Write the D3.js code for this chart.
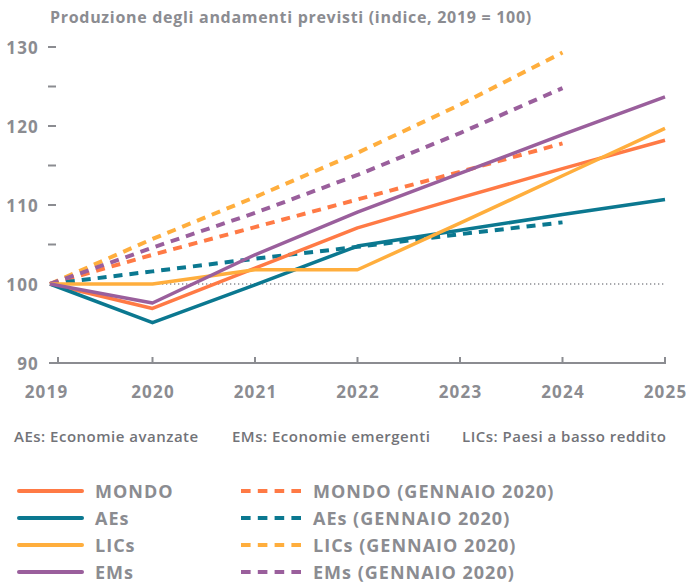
<!DOCTYPE html>
<html>
<head>
<meta charset="utf-8">
<script src="https://cdn.jsdelivr.net/npm/d3@7"></script>
<style>
  body { margin: 0; background: #ffffff; }
  text { font-family: "Open Sans", sans-serif; }
  .title { font-size: 16px; font-weight: 700; fill: #8b8c91; letter-spacing: 0.7px; }
  .axis text { font-size: 17px; font-weight: 700; fill: #8b8c91; font-family: "Open Sans", sans-serif; letter-spacing: 1.2px; }
  .note { font-size: 15px; font-weight: 600; fill: #727378; letter-spacing: 0.5px; }
  .legendText { font-size: 18px; font-weight: 700; fill: #8b8c91; letter-spacing: 1px; }
</style>
</head>
<body>
<div id="chart"></div>
<script>
// chart data
const years = [2019, 2020, 2021, 2022, 2023, 2024, 2025];
const yearsJan = [2019, 2020, 2021, 2022, 2023, 2024];

const mondo = [100, 96.9, 102.0, 107.1, 110.9, 114.6, 118.2];
const aes = [100, 95.1, 99.9, 104.8, 106.8, 108.8, 110.7];
const lics = [100, 100, 101.8, 101.8, 107.7, 113.7, 119.7];
const ems = [100, 97.6, 103.7, 109.1, 114.0, 118.9, 123.7];

const mondoJan = [100, 103.7, 107.2, 110.7, 114.2, 117.8];
const aesJan = [100, 101.6, 103.2, 104.7, 106.3, 107.8];
const licsJan = [100, 105.7, 111.0, 116.6, 122.7, 129.3];
const emsJan = [100, 104.6, 109.0, 113.8, 119.1, 124.8];

const yTickLabels = [90, 100, 110, 120, 130];
const yMinorTicks = [105, 115, 125];

const notes = ['AEs: Economie avanzate', 'EMs: Economie emergenti', 'LICs: Paesi a basso reddito'];

const colours = {mondo: '#ff7a45', aes: '#0b7890', lics: '#ffae3d', ems: '#9a5f9c'};

const series = [
  {name: 'MONDO', values: mondo, colour: colours.mondo, dashed: false},
  {name: 'AEs', values: aes, colour: colours.aes, dashed: false},
  {name: 'LICs', values: lics, colour: colours.lics, dashed: false},
  {name: 'EMs', values: ems, colour: colours.ems, dashed: false},
  {name: 'MONDO (GENNAIO 2020)', values: mondoJan, colour: colours.mondo, dashed: true},
  {name: 'AEs (GENNAIO 2020)', values: aesJan, colour: colours.aes, dashed: true},
  {name: 'LICs (GENNAIO 2020)', values: licsJan, colour: colours.lics, dashed: true},
  {name: 'EMs (GENNAIO 2020)', values: emsJan, colour: colours.ems, dashed: true}
];

const width = 686, height = 583;

let svg = d3.select('#chart')
            .append('svg')
            .attr('width', width)
            .attr('height', height);

let x = d3.scaleLinear()
          .domain([2019, 2025])
          .range([50, 665]);

let y = d3.scaleLinear()
          .domain([90, 130])
          .range([363, 47]);

svg.append('text')
   .attr('class', 'title')
   .attr('x', 50)
   .attr('y', 23)
   .text('Produzione degli andamenti previsti (indice, 2019 = 100)');

// y axis: labels and small dashes
svg.append('g')
   .attr('class', 'axis yAxis')
   .selectAll('text')
   .data(yTickLabels)
   .enter()
   .append('text')
   .attr('x', 39)
   .attr('y', d => y(d) + 7)
   .style('text-anchor', 'end')
   .text(d => d);

svg.append('g')
   .selectAll('line')
   .data(yTickLabels.filter(d => d > 100).concat(yMinorTicks))
   .enter()
   .append('line')
   .attr('x1', 48)
   .attr('x2', 56)
   .attr('y1', d => y(d))
   .attr('y2', d => y(d))
   .style('stroke', '#8b8c91')
   .style('stroke-width', 2);

// x axis
let xAxis = d3.axisBottom(x)
              .tickValues(years)
              .tickSize(0)
              .tickPadding(23)
              .tickFormat(d3.format('d'));

let gx = svg.append('g')
            .attr('class', 'axis xAxis')
            .attr('transform', `translate(0, ${y(90)})`)
            .call(xAxis);

gx.select('.domain').remove();
gx.selectAll('text').attr('dx', d => d == 2019 ? -4 : 0);

svg.append('line')
   .attr('x1', x(2019) - 1)
   .attr('x2', x(2025) + 1)
   .attr('y1', y(90))
   .attr('y2', y(90))
   .style('stroke', '#8b8c91')
   .style('stroke-width', 2);

svg.append('g')
   .selectAll('line')
   .data(years)
   .enter()
   .append('line')
   .attr('x1', d => d == 2019 ? x(d) + 8 : x(d))
   .attr('x2', d => d == 2019 ? x(d) + 8 : x(d))
   .attr('y1', y(90))
   .attr('y2', y(90) - 6)
   .style('stroke', '#8b8c91')
   .style('stroke-width', 2);

// reference line at 100
svg.append('line')
   .attr('x1', x(2019))
   .attr('x2', x(2025))
   .attr('y1', y(100))
   .attr('y2', y(100))
   .style('stroke', '#8b8c91')
   .style('stroke-width', 1.3)
   .style('stroke-dasharray', '1.3,2.7');

let line = d3.line()
             .x((d, i) => x(years[i]))
             .y(d => y(d));

// dashed first, solid lines on top
let drawOrder = series.filter(s => s.dashed).concat(series.filter(s => !s.dashed));

svg.selectAll('path.series')
   .data(drawOrder)
   .enter()
   .append('path')
   .attr('class', 'series')
   .attr('d', d => line(d.values))
   .style('fill', 'none')
   .style('stroke', d => d.colour)
   .style('stroke-width', d => d.dashed ? 4 : 3.5)
   .style('stroke-dasharray', d => d.dashed ? '9,7' : null)
   .style('stroke-linejoin', 'round');

// notes
svg.selectAll('text.note')
   .data(notes)
   .enter()
   .append('text')
   .attr('class', 'note')
   .attr('x', (d, i) => [14, 232, 462][i])
   .attr('y', 442)
   .text(d => d);

// legend
let legend = svg.selectAll('g.legend')
                .data(series)
                .enter()
                .append('g')
                .attr('class', 'legend')
                .attr('transform', (d, i) => `translate(${d.dashed ? 241 : 19}, ${491 + (i % 4) * 27})`);

legend.append('line')
      .attr('x1', 0)
      .attr('x2', d => d.dashed ? 60 : 63)
      .attr('y1', 0)
      .attr('y2', 0)
      .style('stroke', d => d.colour)
      .style('stroke-width', 4)
      .style('stroke-dasharray', d => d.dashed ? '9.6,7.2' : null)
      .style('stroke-linecap', d => d.dashed ? 'butt' : 'round');

legend.append('text')
      .attr('class', 'legendText')
      .attr('x', d => d.dashed ? 72 : 76)
      .attr('y', 6.5)
      .text(d => d.name);
</script>
</body>
</html>
